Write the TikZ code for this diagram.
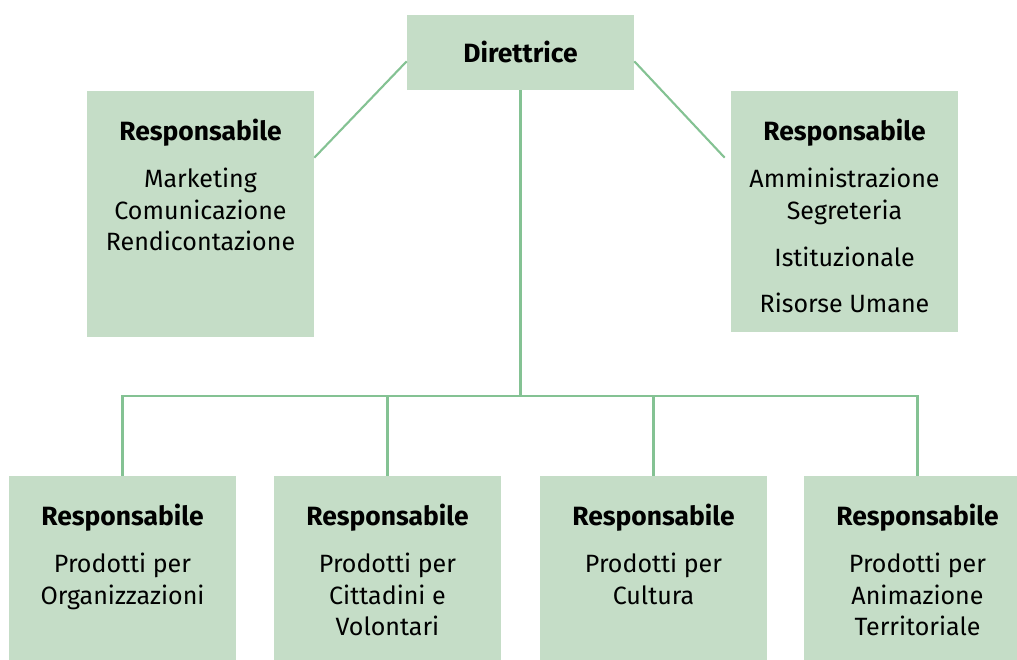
\documentclass[tikz,border=0pt]{standalone}
\usepackage{fontspec}
\setmainfont{Fira Sans}
\usetikzlibrary{positioning, calc}
\definecolor{boxgreen}{HTML}{C5DDC7}
\definecolor{linkgreen}{HTML}{84C293}
\newcommand{\headtxt}[1]{{\fontsize{18.8}{22.5}\selectfont\bfseries #1}}
\tikzset{
  unit/.style={
    rectangle, draw=none, fill=boxgreen,
    minimum width=5.675cm, inner sep=0pt,
  },
  unittxt/.style={
    anchor=north, align=center, inner sep=0pt,
    font=\fontsize{17.8}{22.5}\selectfont,
  },
  link/.style={
    line width=1.5pt, draw=linkgreen,
  }
}
\begin{document}
\begin{tikzpicture}[x=0.025cm, y=-0.025cm]
  \useasboundingbox (0,0) rectangle (1017,659);
  \clip (0,0) rectangle (1017,659);

  % Top: director
  \node[unit, minimum height=1.875cm] (dir) at (520.5, 52.5) {\headtxt{Direttrice}};

  % Staff boxes left and right
  \node[unit, minimum height=6.15cm] (mkt) at (200.5, 214) {};
  \node[unittxt] (mkttxt) at ([yshift=-0.7cm]mkt.north)
    {\headtxt{Responsabile}\\[11pt]Marketing\\Comunicazione\\Rendicontazione};

  \node[unit, minimum height=6.025cm] (amm) at (844.5, 211.5) {};
  \node[unittxt] (ammtxt) at ([yshift=-0.7cm]amm.north)
    {\headtxt{Responsabile}\\[11pt]Amministrazione\\Segreteria\\[11.5pt]Istituzionale\\[10pt]Risorse Umane};

  % Product lines at the bottom
  \node[unit, minimum height=4.75cm] (org) at (122.5, 571) {};
  \node[unit, minimum height=4.75cm] (cit) at (387.5, 571) {};
  \node[unit, minimum height=4.75cm] (cul) at (653.5, 571) {};
  \node[unit, minimum height=4.75cm] (ter) at (917.5, 571) {};

  \node[unittxt] (orgtxt) at ([yshift=-0.7cm]org.north)
    {\headtxt{Responsabile}\\[11pt]Prodotti per\\Organizzazioni};
  \node[unittxt] (cittxt) at ([yshift=-0.7cm]cit.north)
    {\headtxt{Responsabile}\\[11pt]Prodotti per\\Cittadini e\\Volontari};
  \node[unittxt] (cultxt) at ([yshift=-0.7cm]cul.north)
    {\headtxt{Responsabile}\\[11pt]Prodotti per\\Cultura};
  \node[unittxt] (tertxt) at ([yshift=-0.7cm]ter.north)
    {\headtxt{Responsabile}\\[11pt]Prodotti per\\Animazione\\Territoriale};

  % Connectors
  \coordinate (hub) at (520.5, 396);
  \draw[link] (dir.south) -- (hub);
  \draw[link] (hub) -| (org.north);
  \draw[link] (hub) -| (cit.north);
  \draw[link] (hub) -| (cul.north);
  \draw[link] (hub) -| (ter.north);

  \draw[link] ([yshift=-0.22cm]dir.west) -- ([yshift=-1.675cm]mkt.north east);
  \draw[link] ([yshift=-0.22cm]dir.east) -- ([xshift=-0.15cm, yshift=-1.675cm]amm.north west);

\end{tikzpicture}
\end{document}
